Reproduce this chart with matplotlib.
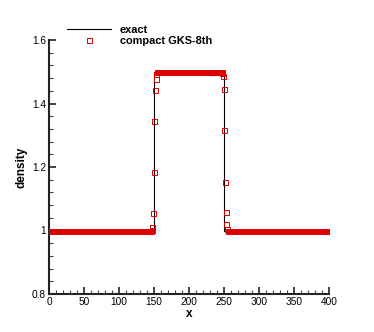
import numpy as np
import matplotlib
matplotlib.use('Agg')
from matplotlib import pyplot as plt
from matplotlib.ticker import MultipleLocator

plt.rcParams['font.family'] = ['Liberation Sans', 'DejaVu Sans']

# exact solution (step)
x_exact = [0, 150, 150, 250, 250, 400]
rho_exact = [1.0, 1.0, 1.5, 1.5, 1.0, 1.0]

# compact GKS-8th, 400 cells; transitions
left_jump = [1.003, 1.011, 1.054, 1.183, 1.345, 1.442, 1.477, 1.492, 1.498]
right_jump = [1.497, 1.488, 1.445, 1.318, 1.154, 1.057, 1.021, 1.006]
n_low1, n_high, n_low2 = 146, 92, 146
rho_gks = [1.0] * n_low1 + left_jump + [1.5] * n_high + right_jump + [1.0] * n_low2
x_gks = np.arange(len(rho_gks)) + 0.5

fig = plt.figure(figsize=(3.74, 3.32), dpi=100)
ax = fig.add_axes([49/374, 1 - 294/332, 280/374, 254/332])

ax.plot(x_exact, rho_exact, color='black', lw=0.8, label='exact', zorder=2)
ax.plot(x_gks, rho_gks, ls='none', marker='s', ms=3.6, mfc='none',
        mec='#dd0000', mew=0.7, label='compact GKS-8th', zorder=3)

ax.set_xlim(0, 400)
ax.set_ylim(0.8, 1.6)
ax.xaxis.set_major_locator(MultipleLocator(50))
ax.xaxis.set_minor_locator(MultipleLocator(10))
ax.yaxis.set_minor_locator(MultipleLocator(0.04))
ax.set_yticks([0.8, 1.0, 1.2, 1.4, 1.6])
ax.set_yticklabels(['0.8', '1', '1.2', '1.4', '1.6'])

for s in ['top', 'right']:
    ax.spines[s].set_visible(False)
for s in ['left', 'bottom']:
    ax.spines[s].set_linewidth(1.5)
    ax.spines[s].set_color('#222222')

ax.tick_params(which='major', direction='in', length=5, width=1.2,
               labelsize=7.3, color='#222222', pad=2)
ax.tick_params(which='minor', direction='in', length=3, width=0.8,
               color='#444444')

ax.set_xlabel('x', fontsize=8.5, fontweight='bold', labelpad=1)
ax.set_ylabel('density', fontsize=8.5, fontweight='bold', labelpad=3)

fig.legend(loc='upper left', bbox_to_anchor=(67/374, 1 - 25/332),
           frameon=False, prop={'weight': 'bold', 'size': 7.9},
           handlelength=4.0, handletextpad=0.8, labelspacing=0.1,
           numpoints=1, borderpad=0, borderaxespad=0)

plt.savefig('out.png', dpi=100)
